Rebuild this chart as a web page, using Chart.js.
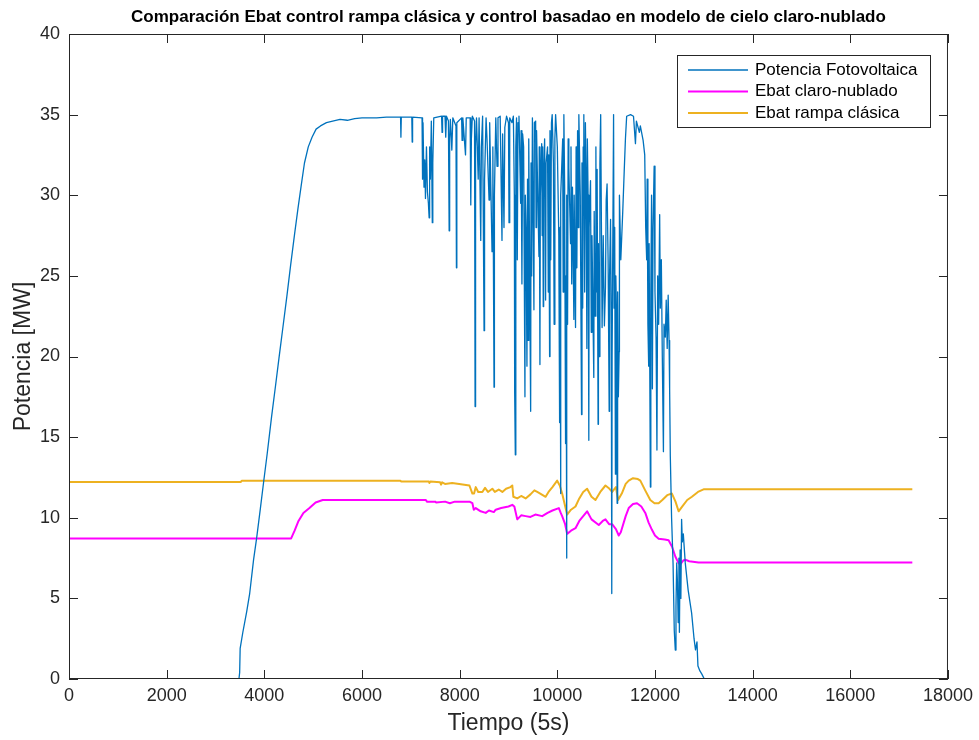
<!DOCTYPE html>
<html>
<head>
<meta charset="utf-8">
<script src="https://cdn.jsdelivr.net/npm/chart.js@4"></script>
<style>
  html, body { margin: 0; padding: 0; background: #fff; }
</style>
</head>
<body>
<canvas id="chart" width="979" height="740"></canvas>
<script>
// Potencia Fotovoltaica [tiempo, MW]
const pvSeries = [
  [0,0],[3480,0],[3495,0.4],[3505,1.9],[3560,2.9],[3640,4.2],[3700,5.3],[3780,7.4],[3841,8.7],[3920,10.6],
  [3985,12.2],[4060,14.0],[4150,16.3],[4230,18.2],[4300,19.9],[4380,21.8],[4460,23.7],[4540,25.7],[4620,27.6],
  [4690,29.2],[4760,30.7],[4822,32.0],[4900,33.0],[4977,33.6],[5060,34.1],[5150,34.3],[5272,34.5],[5400,34.6],
  [5550,34.7],[5700,34.65],[5850,34.75],[6000,34.8],[6300,34.8],[6500,34.85],[6790,34.85],
  [6797,33.6],[6805,34.85],[7020,34.85],[7028,33.3],[7036,34.85],
  [7230,34.8],[7240,31.0],[7250,34.5],[7270,30.5],[7285,32.2],[7300,29.8],[7320,33.0],[7340,30.2],[7360,29.5],
  [7375,28.6],[7385,33.0],[7400,31.0],[7420,34.6],[7440,28.3],[7450,32.0],[7470,34.8],
  [7630,34.9],[7640,33.9],[7650,34.9],[7700,34.9],[7715,33.6],[7730,34.9],
  [7770,34.6],[7785,27.8],[7795,33.5],[7810,34.7],[7840,32.8],[7860,34.8],
  [7925,34.3],[7934,25.5],[7942,34.5],[8040,34.8],[8050,33.4],[8065,34.8],[8120,32.5],[8135,34.8],
  [8215,34.8],[8228,29.4],[8240,33.5],[8260,34.9],[8305,34.6],[8316,16.9],[8322,20.5],[8330,33.0],[8345,34.8],
  [8380,31.0],[8398,34.8],[8432,27.2],[8445,33.0],[8470,34.9],[8500,21.6],[8510,31.0],[8541,34.8],[8560,33.5],
  [8602,29.7],[8615,34.5],[8663,26.5],[8680,33.0],[8704,18.1],[8712,30.0],[8740,34.8],[8765,31.8],[8785,34.8],
  [8830,34.9],[8867,27.2],[8880,33.8],[8908,28.0],[8925,34.2],[8960,34.9],[9000,34.5],[9011,28.3],[9025,34.8],
  [9072,34.5],[9100,34.9],[9120,30.0],[9127,17.7],[9140,13.9],[9150,33.0],[9165,34.8],[9180,26.0],[9195,34.5],
  [9215,34.9],[9249,29.5],[9258,34.0],[9275,24.5],[9290,33.8],[9310,33.0],[9337,17.5],[9345,30.0],[9360,28.0],
  [9378,19.4],[9390,31.0],[9400,21.0],[9410,32.5],[9420,33.5],[9454,16.6],[9462,32.0],[9475,25.0],[9490,34.8],
  [9521,22.9],[9530,34.5],[9556,34.6],[9565,28.0],[9575,34.0],[9590,31.5],[9624,26.2],[9630,33.0],[9644,19.5],
  [9652,30.0],[9680,33.2],[9690,27.5],[9700,33.0],[9712,23.1],[9720,31.0],[9740,33.5],[9760,23.5],[9770,32.0],
  [9800,33.0],[9815,24.0],[9825,32.5],[9842,20.0],[9850,34.0],[9865,26.0],[9880,34.5],[9895,35.0],[9920,32.0],
  [9935,22.0],[9950,33.5],[9965,35.0],[10000,33.0],[10030,27.5],[10047,15.9],[10055,28.0],[10067,11.5],
  [10072,30.0],[10110,33.5],[10120,24.0],[10134,35.0],[10150,30.5],[10169,14.6],[10178,25.0],[10189,7.5],
  [10196,30.0],[10210,22.0],[10222,33.5],[10236,31.7],[10271,27.0],[10280,33.0],[10295,24.5],[10310,30.5],
  [10339,22.3],[10345,30.0],[10373,21.8],[10385,33.0],[10400,25.5],[10415,34.0],[10428,28.0],[10441,35.0],
  [10470,30.0],[10496,16.4],[10505,32.0],[10520,23.0],[10530,33.0],[10543,35.0],[10560,24.0],[10575,34.5],
  [10590,31.0],[10605,20.5],[10615,33.5],[10630,30.0],[10645,14.8],[10652,28.0],[10680,30.9],[10695,21.5],
  [10710,27.5],[10747,18.7],[10755,29.0],[10775,22.5],[10790,33.0],[10800,24.0],[10815,31.6],[10835,15.8],
  [10842,27.0],[10860,20.0],[10872,32.0],[10888,35.0],[10917,21.8],[10940,27.5],[10964,21.9],[10986,24.3],
  [11001,29.7],[11019,30.7],[11040,26.0],[11062,16.6],[11070,25.0],[11090,28.5],[11105,22.0],[11115,5.3],
  [11122,20.0],[11152,35.0],[11162,23.0],[11175,28.0],[11190,12.7],[11198,25.0],[11215,22.0],[11225,10.9],
  [11235,24.0],[11250,17.5],[11266,20.3],[11272,30.0],[11300,26.0],[11340,29.0],[11370,31.5],[11395,33.5],
  [11420,34.9],[11500,35.0],[11560,34.9],[11600,33.2],[11620,34.6],[11680,33.9],[11700,34.3],[11757,33.4],
  [11790,32.5],[11810,28.0],[11830,26.0],[11840,31.0],[11855,22.0],[11871,19.4],[11880,27.0],[11906,11.9],
  [11915,24.0],[11930,30.0],[11947,18.0],[11960,28.0],[11983,31.8],[12000,24.0],[12022,21.2],[12040,14.2],
  [12055,25.0],[12075,22.0],[12096,28.8],[12110,23.0],[12130,26.0],[12150,20.0],[12173,14.1],[12185,22.0],
  [12212,21.2],[12230,23.5],[12250,20.5],[12270,23.8],[12288,21.0],[12300,18.0],[12314,13.8],[12340,10.0],
  [12370,7.2],[12395,3.0],[12416,1.8],[12430,4.5],[12445,7.2],[12460,6.0],[12475,3.5],[12490,7.5],[12500,2.9],
  [12515,8.0],[12530,5.0],[12545,9.9],[12560,8.5],[12580,9.0],[12620,7.2],[12680,5.5],[12750,4.1],[12800,2.5],
  [12830,1.8],[12860,2.3],[12880,0.8],[12920,0.5],[12960,0.3],[13010,0],[17270,0]
];

// Ebat claro-nublado [tiempo, MW]
const ebatNubladoSeries = [
  [0,8.72],[4549,8.72],[4620,9.2],[4700,9.8],[4800,10.3],[4924,10.6],[5050,10.95],[5196,11.1],[7308,11.1],
  [7330,11.0],[7500,11.0],[7520,10.95],[7700,11.0],[7800,10.9],[7900,11.0],[8200,11.0],[8261,10.9],[8290,10.5],
  [8330,10.6],[8430,10.4],[8534,10.3],[8600,10.45],[8700,10.35],[8738,10.5],[8850,10.6],[9000,10.7],[9078,10.8],
  [9120,10.7],[9180,9.9],[9260,10.15],[9351,10.1],[9450,10.05],[9550,10.2],[9691,10.1],[9800,10.3],[9900,10.45],
  [10031,10.6],[10070,10.3],[10099,10.1],[10160,9.6],[10201,9.0],[10280,9.2],[10372,9.35],[10450,9.8],
  [10530,10.1],[10610,10.4],[10700,9.9],[10849,9.55],[10930,9.8],[10986,9.9],[11060,9.6],[11122,9.6],
  [11200,9.3],[11258,8.9],[11300,9.1],[11400,10.1],[11462,10.6],[11550,10.85],[11632,10.9],[11720,10.7],
  [11802,10.3],[11870,9.7],[11938,9.25],[12000,8.9],[12075,8.7],[12200,8.65],[12279,8.6],[12350,8.2],
  [12416,7.6],[12480,7.2],[12518,7.1],[12580,7.35],[12620,7.4],[12700,7.3],[12892,7.22],[17270,7.22]
];

// Ebat rampa clásica [tiempo, MW]
const ebatRampaSeries = [
  [0,12.22],[3520,12.22],[3540,12.3],[6790,12.3],[6800,12.25],[7370,12.25],[7380,12.15],[7400,12.25],
  [7600,12.2],[7620,12.05],[7640,12.2],[7700,12.1],[7846,12.15],[7990,12.1],[8200,12.0],[8261,11.5],
  [8295,11.5],[8330,11.9],[8380,11.6],[8465,11.6],[8520,11.85],[8580,11.6],[8669,11.8],[8720,11.6],
  [8800,11.75],[8874,11.6],[8950,11.8],[9040,11.9],[9078,12.0],[9100,11.3],[9180,11.2],[9260,11.35],
  [9351,11.2],[9450,11.45],[9530,11.7],[9589,11.6],[9650,11.5],[9760,11.3],[9820,11.6],[9900,11.9],
  [9997,12.3],[10050,12.0],[10099,11.5],[10201,10.2],[10280,10.5],[10372,10.7],[10450,11.2],[10530,11.6],
  [10610,11.8],[10700,11.3],[10781,11.1],[10880,11.6],[10986,12.0],[11050,11.85],[11122,11.6],[11200,11.9],
  [11244,11.1],[11320,11.5],[11400,12.1],[11462,12.3],[11550,12.45],[11650,12.4],[11700,12.3],[11800,11.7],
  [11904,11.1],[11990,10.9],[12075,10.9],[12150,11.1],[12250,11.4],[12347,11.5],[12420,11.0],[12484,10.4],
  [12560,10.7],[12660,11.1],[12756,11.3],[12880,11.6],[12995,11.76],[17270,11.76]
];

const seriesLabels = ['Potencia Fotovoltaica', 'Ebat claro-nublado', 'Ebat rampa clásica'];
const seriesColors = ['#0072BD', '#FF00FF', '#EDB120'];

const FONT = '"Liberation Sans", Arial, Helvetica, sans-serif';
const AXIS_COLOR = '#262626';

const toPoints = arr => arr.map(([x, y]) => ({ x, y }));

// marco y marcas de graduación hacia dentro (estilo MATLAB)
const boxPlugin = {
  id: 'boxPlugin',
  afterDraw(chart) {
    const { ctx, chartArea: a, scales } = chart;
    ctx.save();
    ctx.strokeStyle = AXIS_COLOR;
    ctx.lineWidth = 1;
    ctx.strokeRect(a.left + 0.5, a.top + 0.5, a.right - a.left - 1, a.bottom - a.top - 1);
    const len = 9;
    ctx.beginPath();
    scales.x.ticks.forEach(t => {
      const px = Math.round(scales.x.getPixelForValue(t.value)) + 0.5;
      ctx.moveTo(px, a.bottom); ctx.lineTo(px, a.bottom - len);
      ctx.moveTo(px, a.top); ctx.lineTo(px, a.top + len);
    });
    scales.y.ticks.forEach(t => {
      const py = Math.round(scales.y.getPixelForValue(t.value)) + 0.5;
      ctx.moveTo(a.left, py); ctx.lineTo(a.left + len, py);
      ctx.moveTo(a.right, py); ctx.lineTo(a.right - len, py);
    });
    ctx.stroke();
    ctx.restore();
  }
};

const titlePlugin = {
  id: 'titlePlugin',
  afterDraw(chart) {
    const { ctx, chartArea: a } = chart;
    ctx.save();
    ctx.fillStyle = '#000';
    ctx.font = 'bold 17px ' + FONT;
    ctx.textAlign = 'center';
    ctx.textBaseline = 'middle';
    ctx.fillText('Comparación Ebat control rampa clásica y control basadao en modelo de cielo claro-nublado',
      (a.left + a.right) / 2, 17);
    ctx.restore();
  }
};

const legendPlugin = {
  id: 'legendPlugin',
  afterDraw(chart) {
    const ctx = chart.ctx;
    const x0 = 677, y0 = 55, w = 253, h = 72;
    ctx.save();
    ctx.fillStyle = '#fff';
    ctx.fillRect(x0, y0, w, h);
    ctx.strokeStyle = AXIS_COLOR;
    ctx.lineWidth = 1;
    ctx.strokeRect(x0 + 0.5, y0 + 0.5, w, h);
    ctx.font = '17px ' + FONT;
    ctx.textBaseline = 'middle';
    chart.data.datasets.forEach((ds, i) => {
      const y = y0 + 15 + i * 21.5;
      ctx.strokeStyle = ds.borderColor;
      ctx.lineWidth = ds.borderWidth;
      ctx.beginPath();
      ctx.moveTo(x0 + 11, y); ctx.lineTo(x0 + 71, y);
      ctx.stroke();
      ctx.fillStyle = '#000';
      ctx.fillText(ds.label, x0 + 78, y);
    });
    ctx.restore();
  }
};

new Chart(document.getElementById('chart'), {
  type: 'line',
  data: {
    datasets: [
      { label: seriesLabels[0], data: toPoints(pvSeries), borderColor: seriesColors[0], borderWidth: 1.3 },
      { label: seriesLabels[1], data: toPoints(ebatNubladoSeries), borderColor: seriesColors[1], borderWidth: 2 },
      { label: seriesLabels[2], data: toPoints(ebatRampaSeries), borderColor: seriesColors[2], borderWidth: 2 }
    ]
  },
  options: {
    responsive: false,
    animation: false,
    devicePixelRatio: 1,
    elements: {
      point: { radius: 0 },
      line: { tension: 0, borderJoinStyle: 'round', fill: false }
    },
    layout: { padding: { top: 34, right: 30, left: 0, bottom: 0 } },
    plugins: { legend: { display: false }, tooltip: { enabled: false } },
    scales: {
      x: {
        type: 'linear', min: 0, max: 18000,
        grid: { display: false, drawTicks: false },
        border: { display: false },
        ticks: { stepSize: 2000, padding: 6, color: AXIS_COLOR, font: { family: FONT, size: 18 },
          callback: v => String(v), maxRotation: 0 },
        title: { display: true, text: 'Tiempo (5s)', color: AXIS_COLOR, font: { family: FONT, size: 23 },
          padding: { top: 0, bottom: 3 } },
        afterFit: s => { s.height = 61; }
      },
      y: {
        min: 0, max: 40,
        grid: { display: false, drawTicks: false },
        border: { display: false },
        ticks: { stepSize: 5, padding: 9, color: AXIS_COLOR, font: { family: FONT, size: 18 } },
        title: { display: true, text: 'Potencia [MW]', color: AXIS_COLOR, font: { family: FONT, size: 23 },
          padding: { top: 10, bottom: 0 } },
        afterFit: s => { s.width = 69; }
      }
    }
  },
  plugins: [boxPlugin, titlePlugin, legendPlugin]
});
</script>
</body>
</html>
